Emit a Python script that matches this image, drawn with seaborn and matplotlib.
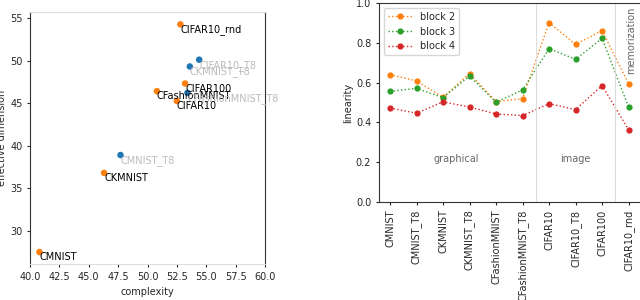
import numpy as np
import pandas as pd
import matplotlib
matplotlib.use("Agg")
import matplotlib.pyplot as plt
import seaborn as sns

# left panel: complexity vs effective dimension
names = ["CIFAR10_rnd", "CIFAR10_T8", "CKMNIST_T8", "CIFAR100", "CFashionMNIST",
         "CFashionMNIST_T8", "CIFAR10", "CMNIST_T8", "CKMNIST", "CMNIST"]
complexity = [52.8, 54.4, 53.6, 53.2, 50.8, 53.4, 52.5, 47.7, 46.3, 40.8]
eff_dim = [54.25, 50.1, 49.3, 47.3, 46.4, 46.2, 45.25, 38.9, 36.8, 27.5]
kind = ["plain", "T8", "T8", "plain", "plain", "T8", "plain", "T8", "plain", "plain"]

# right panel: linearity per block
datasets = ["CMNIST", "CMNIST_T8", "CKMNIST", "CKMNIST_T8", "CFashionMNIST",
            "CFashionMNIST_T8", "CIFAR10", "CIFAR10_T8", "CIFAR100", "CIFAR10_rnd"]
block2 = [0.640, 0.608, 0.526, 0.645, 0.504, 0.519, 0.901, 0.792, 0.861, 0.594]
block3 = [0.556, 0.571, 0.524, 0.633, 0.501, 0.563, 0.770, 0.717, 0.822, 0.477]
block4 = [0.472, 0.446, 0.503, 0.477, 0.442, 0.434, 0.494, 0.464, 0.585, 0.363]
groups = ["graphical", "image", "memorization"]

sns.set_style("ticks")
plt.rcParams["font.family"] = ["DejaVu Sans"]
plt.rcParams["font.size"] = 7

fig = plt.figure(figsize=(6.4, 3.0), dpi=100)
ax1 = fig.add_axes([0.047, 0.12, 0.367, 0.84])
ax2 = fig.add_axes([0.592, 0.327, 0.415, 0.663])

# ---- left
df = pd.DataFrame({"complexity": complexity, "effective dimension": eff_dim, "kind": kind})
sns.scatterplot(data=df, x="complexity", y="effective dimension", hue="kind",
                palette={"plain": "tab:orange", "T8": "tab:blue"},
                s=22, edgecolor="none", legend=False, ax=ax1)
for n, x, y, k in zip(names, complexity, eff_dim, kind):
    ax1.text(x, y, n, ha="left", va="top", fontsize=7,
             color="black" if k == "plain" else "#bbbbbb")
ax1.set_xlim(40, 60)
ax1.set_ylim(26.1, 55.7)
ax1.set_xticks(np.arange(40, 60.1, 2.5))
ax1.set_yticks([30, 35, 40, 45, 50, 55])
ax1.tick_params(labelsize=7, length=2)
ax1.set_xlabel("complexity", fontsize=7)
ax1.set_ylabel("effective dimension", fontsize=7, labelpad=2)
for side in ["left", "right"]:
    ax1.spines[side].set_visible(True)
    ax1.spines[side].set_color("#333333")
for side in ["top", "bottom"]:
    ax1.spines[side].set_visible(True)
    ax1.spines[side].set_color("#dddddd")

# ---- right
long = pd.DataFrame({
    "idx": list(range(len(datasets))) * 3,
    "linearity": block2 + block3 + block4,
    "block": ["block 2"] * 10 + ["block 3"] * 10 + ["block 4"] * 10,
})
sns.lineplot(data=long, x="idx", y="linearity", hue="block",
             palette=["tab:orange", "tab:green", "tab:red"],
             marker="o", markersize=4.5, markeredgecolor="none",
             linestyle=":", linewidth=1, ax=ax2)
ax2.axvline(5.5, color="#dddddd", lw=0.8)
ax2.axvline(8.5, color="#dddddd", lw=0.8)
ax2.text(2.5, 0.216, groups[0], ha="center", va="center", color="#666666", fontsize=7)
ax2.text(7.0, 0.216, groups[1], ha="center", va="center", color="#666666", fontsize=7)
ax2.text(9.1, 0.98, groups[2], ha="center", va="top", rotation=90, color="#666666", fontsize=7)
ax2.set_xlim(-0.42, 9.6)
ax2.set_ylim(0, 1.0)
ax2.set_xticks(range(len(datasets)))
ax2.set_xticklabels(datasets, rotation=90)
ax2.set_yticks(np.arange(0, 1.01, 0.2))
ax2.tick_params(labelsize=7, length=2)
ax2.set_xlabel("")
ax2.set_ylabel("linearity", fontsize=7, labelpad=2)
for side in ["left", "top", "bottom", "right"]:
    ax2.spines[side].set_visible(True)
    ax2.spines[side].set_color("#333333")
leg = ax2.legend(loc="upper left", fontsize=7, frameon=True, borderpad=0.4,
                 handlelength=2.5, labelspacing=0.5)
leg.get_frame().set_edgecolor("#cccccc")

fig.savefig("out.png", dpi=100)
